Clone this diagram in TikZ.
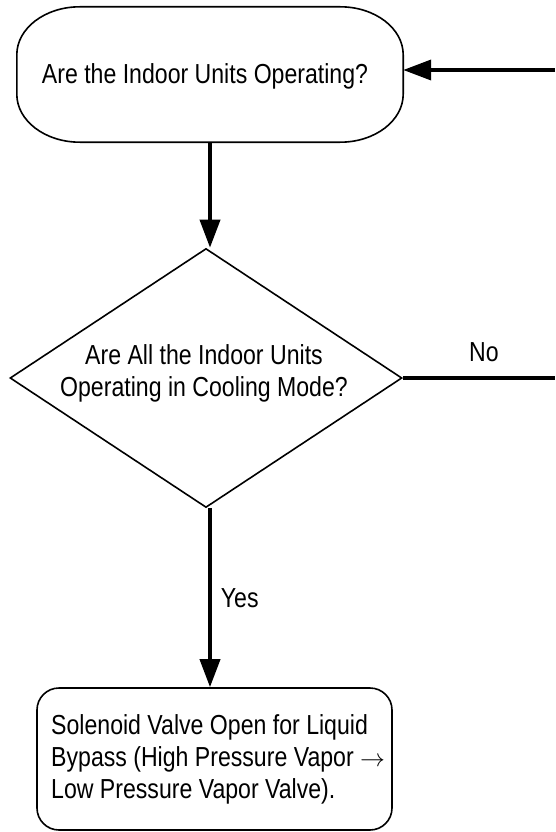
\documentclass[tikz,border=0pt]{standalone}
\usepackage{fontspec}
\setmainfont[FakeStretch=0.84]{Liberation Sans}
\usetikzlibrary{arrows.meta,shapes.geometric}
\begin{document}
\begin{tikzpicture}[x=1pt,y=-1pt,
  shapeline/.style={draw, line width=1.6pt, inner sep=0pt},
  conn/.style={line width=3.8pt},
  arr/.style={conn, -{Triangle[length=28pt,width=20pt]}},
  txt/.style={font=\fontsize{27.5}{32}\selectfont, inner sep=0pt},
  corner/.style={x radius=63pt, y radius=48pt}]
\useasboundingbox (0,0) rectangle (555,832);
% top rounded box (elliptic corners)
\node[inner sep=0pt, minimum width=386pt, minimum height=135pt] (top) at (210,74.5) {};
\draw[line width=1.6pt] ([xshift=63pt]top.north west) -- ([xshift=-63pt]top.north east)
  arc[start angle=90, end angle=0, corner] -- ([yshift=48pt]top.south east)
  arc[start angle=0, end angle=-90, corner] -- ([xshift=63pt]top.south west)
  arc[start angle=270, end angle=180, corner] -- ([yshift=-48pt]top.north west)
  arc[start angle=180, end angle=90, corner] -- cycle;
\node[txt] (toptext) at (205,76) {Are the Indoor Units Operating?};
% diamond
\node[shapeline, diamond, minimum width=392pt, minimum height=259pt] (dia) at (206,378) {};
\node[txt, align=center] (diatext) at (204,373) {Are All the Indoor Units\\Operating in Cooling Mode?};
% bottom box
\node[shapeline, rounded corners=22pt, minimum width=355pt, minimum height=142pt] (bot) at (214.5,759) {};
\node[txt, align=left, anchor=north west] (bottext) at (51,714) {Solenoid Valve Open for Liquid\\Bypass (High Pressure Vapor $\rightarrow$\\Low Pressure Vapor Valve).};
% connectors
\coordinate (rin) at (555,70);
\coordinate (rout) at (555,378);
\draw[arr] (rin) -- (rin -| top.east);
\draw[arr] (top.south) -- (top.south |- dia.north);
\draw[conn] (dia.east) -- (rout);
\draw[arr] (top.south |- dia.south) -- node[txt, right=9pt, pos=0.5] (yes) {Yes} (top.south |- bot.north);
\node[txt] (no) at (484,352) {No};
\end{tikzpicture}
\end{document}
